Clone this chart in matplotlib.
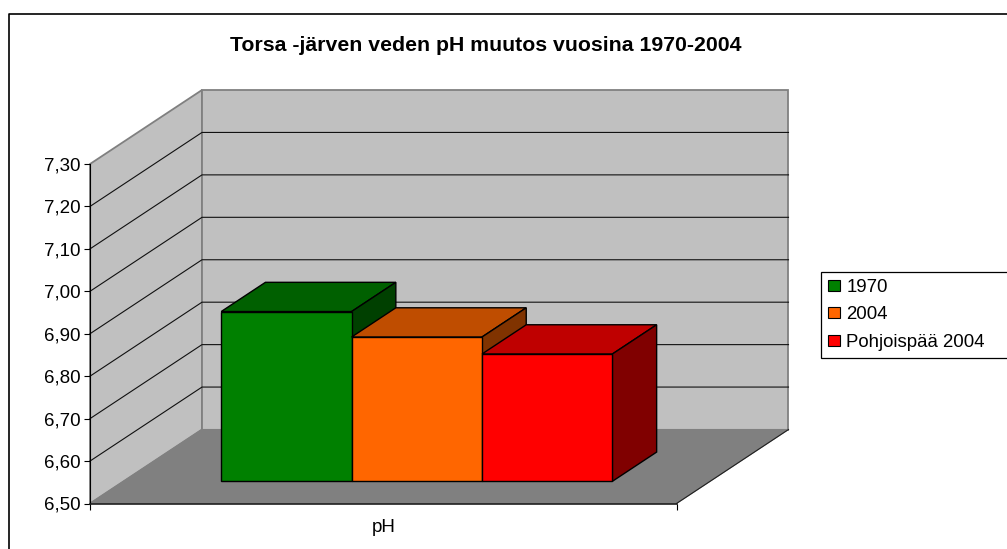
import matplotlib
matplotlib.use('Agg')
import matplotlib.pyplot as plt
from matplotlib.patches import Polygon, Patch
from matplotlib.lines import Line2D

plt.rcParams['font.family'] = ['Liberation Sans', 'DejaVu Sans']

title = 'Torsa -järven veden pH muutos vuosina 1970-2004'
category = 'pH'
series = ['1970', '2004', 'Pohjoispää 2004']
values = [6.90, 6.84, 6.80]
colors = ['#008000', '#FF6600', '#FF0000']
top_colors = ['#006000', '#BF4D00', '#BF0000']
side_colors = ['#004000', '#803300', '#800000']
yticks = [6.5, 6.6, 6.7, 6.8, 6.9, 7.0, 7.1, 7.2, 7.3]

W, H = 1007, 549
# plot front rectangle in pixels
left, right, top, bottom = 90, 676.5, 164, 503.5

# depth of the 3d box in axis units
DX = 112 / (right - left)
DY = 74 / ((bottom - top) / 0.8)
bar_d0 = 0.30
bar_d1 = 0.695
bar_start = (221.2 - left - bar_d0 * 112) / (right - left)
bar_w = 130.4 / (right - left)


def p(x, v, d=0.0):
    return (x + d * DX, v + d * DY)


fig = plt.figure(figsize=(W / 100, H / 100), dpi=100)
ax = fig.add_axes([left / W, 1 - bottom / H, (right - left) / W, (bottom - top) / H])
ax.set_xlim(0, 1)
ax.set_ylim(yticks[0], yticks[-1])
ax.patch.set_visible(False)


def poly(pts, fc, ec='black', lw=1.0, z=2):
    ax.add_patch(Polygon(pts, closed=True, facecolor=fc, edgecolor=ec, linewidth=lw,
                         joinstyle='miter', clip_on=False, zorder=z))


# walls and floor
y0, y1 = yticks[0], yticks[-1]
poly([p(0, y0), p(0, y1), p(0, y1, 1), p(0, y0, 1)], '#C0C0C0', '#808080', 1.3, 1)
poly([p(0, y0, 1), p(0, y1, 1), p(1, y1, 1), p(1, y0, 1)], '#C0C0C0', '#808080', 1.3, 1)
poly([p(0, y0), p(0, y0, 1), p(1, y0, 1), p(1, y0)], '#808080', '#808080', 0.8, 1)

# grid
for v in yticks[1:-1]:
    a = p(0, v)
    b = p(0, v, 1)
    c = p(1, v, 1)
    ax.plot([a[0], b[0], c[0]], [a[1], b[1], c[1]], color='#101010', lw=0.8, clip_on=False, zorder=1.5)
b = p(1, y0)
c = p(1, y0, 1)
ax.plot([b[0], c[0]], [b[1], c[1]], color='#202020', lw=0.8, clip_on=False, zorder=1.5)

# bars
for i, v in enumerate(values):
    x0 = bar_start + i * bar_w
    x1 = x0 + bar_w
    z = 2 + i * 0.1
    poly([p(x0, v, bar_d0), p(x0, v, bar_d1), p(x1, v, bar_d1), p(x1, v, bar_d0)], top_colors[i], z=z)
    poly([p(x1, y0, bar_d0), p(x1, y0, bar_d1), p(x1, v, bar_d1), p(x1, v, bar_d0)], side_colors[i], z=z)
    poly([p(x0, y0, bar_d0), p(x1, y0, bar_d0), p(x1, v, bar_d0), p(x0, v, bar_d0)], colors[i], z=z + 0.05)

for s in ['top', 'right']:
    ax.spines[s].set_visible(False)
ax.spines['left'].set_linewidth(0.8)
ax.spines['bottom'].set_linewidth(1.2)
ax.spines['bottom'].set_color('#202020')
ax.spines['left'].set_zorder(1.6)
ax.spines['bottom'].set_zorder(1.6)

ax.set_yticks(yticks)
ax.yaxis.set_major_formatter(plt.FuncFormatter(lambda v, _: ('%.2f' % v).replace('.', ',')))
ax.tick_params(axis='y', length=4, width=0.8, labelsize=13.5, pad=3, colors='black')
ax.set_xticks([0, 1])
ax.set_xticklabels(['', ''])
ax.set_xticks([0.5], minor=True)
ax.set_xticklabels([category], minor=True)
ax.tick_params(axis='x', which='major', length=4, width=0.8)
ax.tick_params(axis='x', which='minor', length=0, labelsize=13.5, pad=11.5)

# chart frame, only top and left show in the crop
fig.add_artist(Line2D([8.5 / W, 8.5 / W, 1], [0, 1 - 14 / H, 1 - 14 / H], color='black', lw=1.2))

fig.text(486 / W, 1 - 45.5 / H, title, ha='center', va='center', fontsize=15.3, fontweight='bold')

handles = [Patch(facecolor=c, edgecolor='black', linewidth=0.8) for c in colors]
leg = fig.legend(handles, series, loc='upper left',
                 bbox_to_anchor=(821 / W, 1 - 357 / H, 200 / W, 85 / H),
                 bbox_transform=fig.transFigure, mode='expand', fontsize=13.4, fancybox=False,
                 framealpha=1, edgecolor='black', handlelength=0.65, handleheight=0.54,
                 handletextpad=0.36, labelspacing=0.58, borderaxespad=0, borderpad=0.36)
leg.get_frame().set_linewidth(0.9)

fig.savefig('out.png', dpi=100)
